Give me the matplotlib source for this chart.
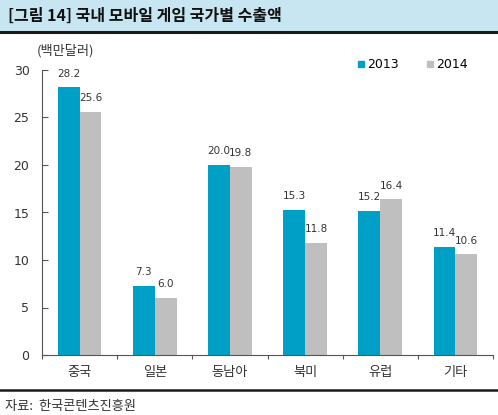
import numpy as np
import matplotlib.pyplot as plt
from matplotlib.lines import Line2D
from matplotlib.patches import Rectangle

plt.rcParams['font.family'] = ['Noto Sans CJK KR', 'DejaVu Sans']

categories = ['중국', '일본', '동남아', '북미', '유럽', '기타']
v2013 = [28.2, 7.3, 20.0, 15.3, 15.2, 11.4]
v2014 = [25.6, 6.0, 19.8, 11.8, 16.4, 10.6]
series_names = ['2013', '2014']
yticks = [0, 5, 10, 15, 20, 25, 30]

blue = '#00a0c6'
gray = '#bfbfbf'
txt = '#333333'

W, H = 498, 415
fig = plt.figure(figsize=(W / 100, H / 100), dpi=100)

# header band and rules
fig.patches.append(Rectangle((0, 1 - 31 / H), 1, 31 / H, transform=fig.transFigure,
                             facecolor='#c8e6f1', edgecolor='none', zorder=0))
fig.add_artist(Line2D([0, 1], [1 - 32 / H] * 2, color='#1a1a1a', lw=2.2))
fig.add_artist(Line2D([0, 1], [1 - 390 / H] * 2, color='#1a1a1a', lw=1.8))
fig.text(8 / W, 1 - 16 / H, '[그림 14] 국내 모바일 게임 국가별 수출액', fontsize=11.5,
         fontweight='bold', va='center', ha='left', color='#111111')
fig.text(37 / W, 1 - 51 / H, '(백만달러)', fontsize=9.5, va='center', ha='left', color=txt)
fig.text(5 / W, 1 - 406 / H, '자료:  한국콘텐츠진흥원', fontsize=9.5, va='center', ha='left', color=txt)

ax = fig.add_axes([42 / W, 1 - 355 / H, (493 - 42) / W, (355 - 70) / H])
x = np.arange(len(categories))
bw = 0.29
b1 = ax.bar(x - bw / 2, v2013, bw, color=blue, zorder=2)
b2 = ax.bar(x + bw / 2, v2014, bw, color=gray, zorder=2)

for bars, vals in ((b1, v2013), (b2, v2014)):
    for r, v in zip(bars, vals):
        ax.text(r.get_x() + r.get_width() / 2, v + 0.9, f'{v:.1f}', ha='center', va='bottom',
                fontsize=7.5, color=txt, family='DejaVu Sans')

ax.set_xlim(-0.5, len(categories) - 0.5)
ax.set_ylim(0, 30)
ax.set_yticks(yticks)
ax.tick_params(axis='y', direction='in', length=4, colors='#555555', labelcolor=txt,
               labelsize=9, pad=9)
for lab in ax.get_yticklabels():
    lab.set_family('DejaVu Sans')
ax.set_xticks(np.arange(len(categories) + 1) - 0.5)
ax.set_xticklabels([])
ax.set_xticks(x, minor=True)
ax.set_xticklabels(categories, minor=True, fontsize=9.5, color=txt)
ax.tick_params(axis='x', which='major', direction='out', length=3, colors='#555555')
ax.tick_params(axis='x', which='minor', length=0, pad=8)
for s in ('top', 'right'):
    ax.spines[s].set_visible(False)
ax.spines['left'].set_color('#555555')
ax.spines['bottom'].set_color('#555555')

handles = [Line2D([], [], marker='s', ls='none', color=blue, markersize=5),
           Line2D([], [], marker='s', ls='none', color=gray, markersize=5)]
ax.legend(handles, series_names, loc='upper right', bbox_to_anchor=(0.97, 1.08), ncol=2,
          frameon=False, handletextpad=0.0, columnspacing=2.0, handlelength=1.0,
          prop={'family': 'DejaVu Sans', 'size': 9})

fig.savefig('out.png', dpi=100)
